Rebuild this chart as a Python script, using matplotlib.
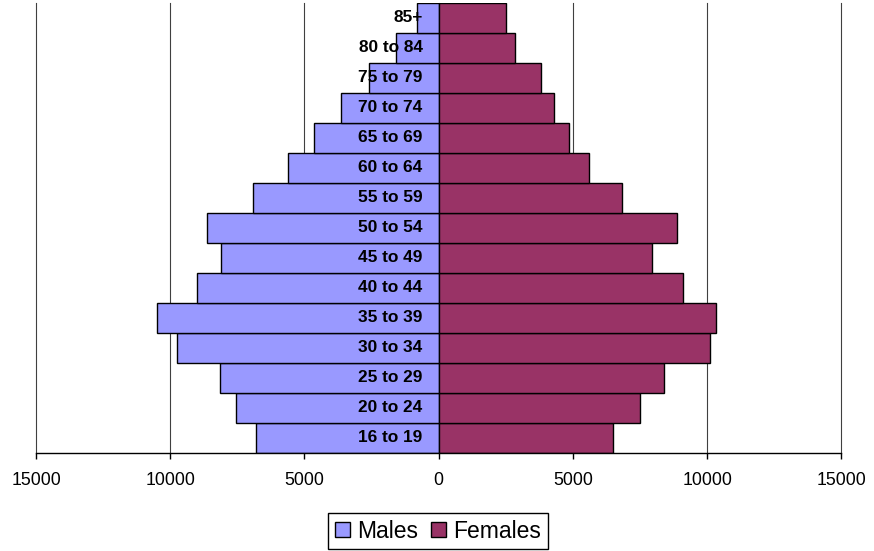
import matplotlib
matplotlib.use("Agg")
from matplotlib import pyplot as plt
from matplotlib.ticker import FuncFormatter
import numpy as np

plt.rcParams['font.family'] = ['Liberation Sans', 'DejaVu Sans']

# age groups, bottom to top
ages = ["16 to 19", "20 to 24", "25 to 29", "30 to 34", "35 to 39",
        "40 to 44", "45 to 49", "50 to 54", "55 to 59", "60 to 64",
        "65 to 69", "70 to 74", "75 to 79", "80 to 84", "85+"]
males = [6790, 7540, 8150, 9760, 10510, 9000, 8090, 8640, 6900, 5600,
         4640, 3650, 2580, 1600, 800]
females = [6500, 7490, 8400, 10110, 10320, 9100, 7950, 8870, 6840, 5600,
           4850, 4310, 3830, 2860, 2490]
xticks = [-15000, -10000, -5000, 0, 5000, 10000, 15000]

male_col = '#9999FF'
female_col = '#993366'

fig = plt.figure(figsize=(8.74, 5.51), dpi=100)
ax = fig.add_axes([0.0412, 0.1779, 0.9214, 0.8167])

y = np.arange(len(ages))
ax.barh(y, -np.array(males), height=1.0, color=male_col, edgecolor='black',
        linewidth=1.0, label='Males', zorder=2)
ax.barh(y, females, height=1.0, color=female_col, edgecolor='black',
        linewidth=1.0, label='Females', zorder=2)

# age labels sitting left of the centre line
for yi, lab in zip(y, ages):
    ax.annotate(lab, xy=(0, yi), xytext=(-11.5, 0), textcoords='offset points',
                ha='right', va='center', fontsize=12.4, fontweight='bold',
                zorder=3)

ax.set_xlim(-15000, 15000)
ax.set_ylim(-0.5, len(ages) - 0.5)
ax.set_xticks(xticks)
ax.xaxis.set_major_formatter(FuncFormatter(lambda v, p: "%d" % abs(v)))
ax.set_yticks([])
ax.tick_params(axis='x', direction='out', length=4.5, width=1.0,
               labelsize=12.8, pad=9)
ax.grid(True, axis='x', color='#404040', linewidth=0.8, zorder=0)
for line in ax.get_xgridlines():
    line.set_clip_on(False)
for s in ['left', 'right', 'top']:
    ax.spines[s].set_visible(False)
ax.spines['bottom'].set_linewidth(1.0)

leg = fig.legend(loc='center', bbox_to_anchor=(438 / 874, 1 - 531 / 551),
                 ncol=2, fontsize=16.5, frameon=True, fancybox=False,
                 edgecolor='black', framealpha=1, handlelength=0.65,
                 handleheight=0.65, handletextpad=0.3, columnspacing=0.6,
                 borderpad=0.3, borderaxespad=0)
leg.get_frame().set_linewidth(1.0)

fig.savefig("out.png", dpi=100)
